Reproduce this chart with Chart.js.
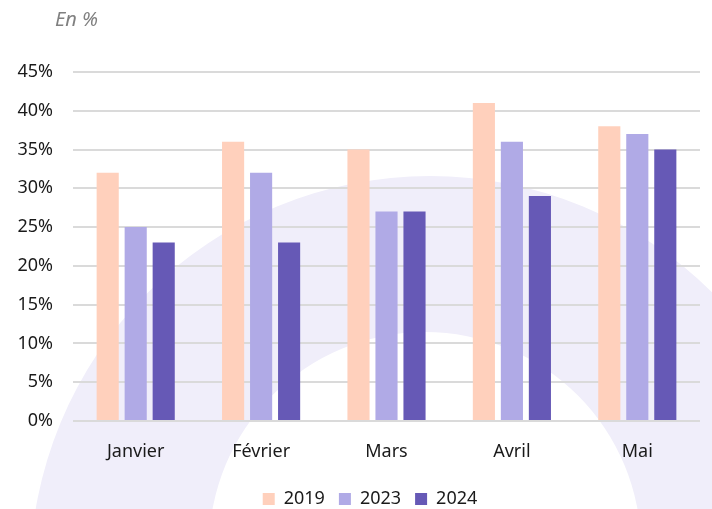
<!DOCTYPE html>
<html>
<head>
<meta charset="utf-8">
<script src="https://cdn.jsdelivr.net/npm/chart.js@4"></script>
<style>
  html, body { margin: 0; padding: 0; background: #fff; }
  #wrap { width: 712px; height: 509px; position: relative; }
</style>
</head>
<body>
<div id="wrap"><canvas id="myChart"></canvas></div>
<script>
const months = ["Janvier", "Février", "Mars", "Avril", "Mai"];
const years = ["2019", "2023", "2024"];
const values2019 = [32, 36, 35, 41, 38];
const values2023 = [25, 32, 27, 36, 37];
const values2024 = [23, 23, 27, 29, 35];
const yTicks = [0, 5, 10, 15, 20, 25, 30, 35, 40, 45];
const colors = ["#ffd0bc", "#b0aae6", "#6659b6"];

const font = "'Noto Sans', sans-serif";

// decorative ring behind the chart + the "En %" caption
const decor = {
  id: "decor",
  afterLayout(chart) {
    // legend sits a little right of the canvas centre
    chart.legend.left += 12;
    chart.legend.right += 12;
  },
  beforeDraw(chart) {
    const c = chart.ctx;
    c.save();
    c.fillStyle = "#fff";
    c.fillRect(0, 0, chart.width, chart.height);
    c.beginPath();
    c.arc(430, 576, 400, 0, Math.PI * 2);
    c.moveTo(425 + 216, 548);
    c.arc(425, 548, 216, 0, Math.PI * 2, true);
    c.fillStyle = "#f0eefa";
    c.fill("evenodd");
    c.restore();
  },
  afterDraw(chart) {
    const c = chart.ctx;
    c.save();
    c.font = "italic 20px " + font;
    c.fillStyle = "#808080";
    c.textBaseline = "middle";
    c.fillText("En %", 55, 20);
    c.restore();
  }
};

const ctx = document.getElementById("myChart");
new Chart(ctx, {
  type: "bar",
  data: {
    labels: months,
    datasets: [
      { label: years[0], data: values2019, backgroundColor: colors[0] },
      { label: years[1], data: values2023, backgroundColor: colors[1] },
      { label: years[2], data: values2024, backgroundColor: colors[2] },
    ],
  },
  options: {
    responsive: true,
    maintainAspectRatio: false,
    animation: false,
    categoryPercentage: 0.67,
    barPercentage: 0.79,
    layout: {
      padding: { top: 72, right: 12, left: 16, bottom: -9 },
    },
    plugins: {
      legend: {
        position: "bottom",
        labels: {
          boxWidth: 12,
          boxHeight: 12,
          padding: 14,
          color: "#1a1a1a",
          font: { family: font, size: 18 },
        },
      },
      tooltip: { enabled: false },
    },
    scales: {
      x: {
        grid: { display: false },
        border: { display: false },
        afterFit(scale) { scale.height = 55; },
        ticks: {
          padding: 12,
          color: "#1a1a1a",
          font: { family: font, size: 18 },
        },
      },
      y: {
        min: 0,
        max: 45,
        afterBuildTicks(axis) {
          axis.ticks = yTicks.map(v => ({ value: v }));
        },
        afterFit(scale) { scale.width = 57; },
        border: { display: false },
        grid: { color: "#dadada", lineWidth: 2, drawTicks: false },
        ticks: {
          padding: 20,
          color: "#1a1a1a",
          font: { family: font, size: 18 },
          callback: v => v + "%",
        },
      },
    },
  },
  plugins: [decor],
});
</script>
</body>
</html>
